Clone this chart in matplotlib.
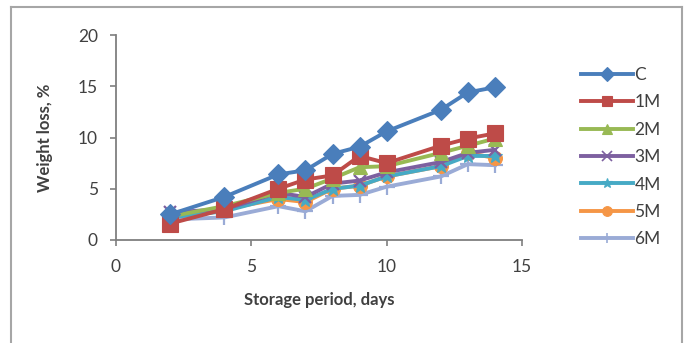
import matplotlib
matplotlib.use("Agg")
import matplotlib.pyplot as plt
from matplotlib.lines import Line2D

plt.rcParams['font.family'] = ['Lato', 'DejaVu Sans']

days = [2, 4, 6, 7, 8, 9, 10, 12, 13, 14]
series_names = ["C", "1M", "2M", "3M", "4M", "5M", "6M"]
c_vals  = [2.5, 4.2, 6.4, 6.8, 8.4, 9.1, 10.6, 12.7, 14.4, 14.9]
m1_vals = [1.6, 3.0, 5.0, 5.9, 6.3, 8.2, 7.5, 9.2, 9.9, 10.4]
m2_vals = [2.3, 3.3, 4.6, 5.0, 6.0, 7.1, 7.2, 8.5, 9.2, 9.9]
m3_vals = [2.7, 3.0, 4.6, 4.2, 5.5, 5.8, 6.6, 7.6, 8.5, 8.8]
m4_vals = [2.2, 2.8, 4.2, 3.9, 5.0, 5.3, 6.2, 7.2, 8.2, 8.2]
m5_vals = [2.4, 3.0, 4.0, 3.7, 5.0, 5.3, 6.2, 7.2, 8.5, 8.0]
m6_vals = [2.0, 2.2, 3.3, 2.8, 4.3, 4.4, 5.2, 6.2, 7.4, 7.3]
x_ticks = [0, 5, 10, 15]
y_ticks = [0, 5, 10, 15, 20]

values = [c_vals, m1_vals, m2_vals, m3_vals, m4_vals, m5_vals, m6_vals]
colors = ["#4A7EBB", "#BE4B48", "#98B954", "#7D60A0", "#46AAC5", "#F59646", "#9AABD6"]
markers = ["D", "s", "^", "x", "*", "o", "+"]
msizes = [10, 11, 10, 9, 11, 10, 12]

fig = plt.figure(figsize=(6.86, 3.43), dpi=100)
ax = fig.add_axes([116/686, 1-240/343, (522-116)/686, (240-35)/343])

for i in reversed(range(len(series_names))):
    ax.plot(days, values[i], color=colors[i], lw=2.8, marker=markers[i],
            markersize=msizes[i], markeredgewidth=1.6 if markers[i] in ("x", "+") else 0.8,
            markeredgecolor=colors[i], zorder=3 + (len(series_names) - i))
handles = []
for i in range(len(series_names)):
    handles.append(Line2D([0], [0], color=colors[i], lw=2.8, marker=markers[i],
                          markersize=7, markeredgecolor=colors[i],
                          markeredgewidth=1.2 if markers[i] in ("x", "+") else 0.8))

ax.set_xlim(0, 15)
ax.set_ylim(0, 20)
ax.set_xticks(x_ticks)
ax.set_yticks(y_ticks)
for s in ["top", "right"]:
    ax.spines[s].set_visible(False)
for s in ["left", "bottom"]:
    ax.spines[s].set_color("#7F7F7F")
    ax.spines[s].set_linewidth(1.3)
ax.tick_params(axis="both", direction="out", length=4, width=1.2, color="#7F7F7F",
               labelsize=12.5, labelcolor="#404040")
ax.tick_params(axis="x", pad=10)
ax.tick_params(axis="y", pad=9)
ax.set_xlabel("Storage period, days", fontsize=12, fontweight="bold", color="#404040", labelpad=12)
ax.set_ylabel("Weight loss, %", fontsize=12, fontweight="bold", color="#404040", labelpad=18)

leg = fig.legend(handles, series_names, loc="upper left", bbox_to_anchor=(572/686, 1-58/343),
                 frameon=False, fontsize=12.5, handlelength=3.0, labelspacing=0.66,
                 handletextpad=0.1, borderpad=0)
for t in leg.get_texts():
    t.set_color("#404040")

# outer frame (left, top, right)
for xs, ys in [([11/686, 11/686], [0, 1-7/343]),
               ([11/686, 682/686], [1-7/343, 1-7/343]),
               ([682/686, 682/686], [0, 1-7/343])]:
    fig.add_artist(Line2D(xs, ys, color="#A6A6A6", lw=1.5, transform=fig.transFigure))

fig.savefig("out.png", dpi=100, facecolor="white")
